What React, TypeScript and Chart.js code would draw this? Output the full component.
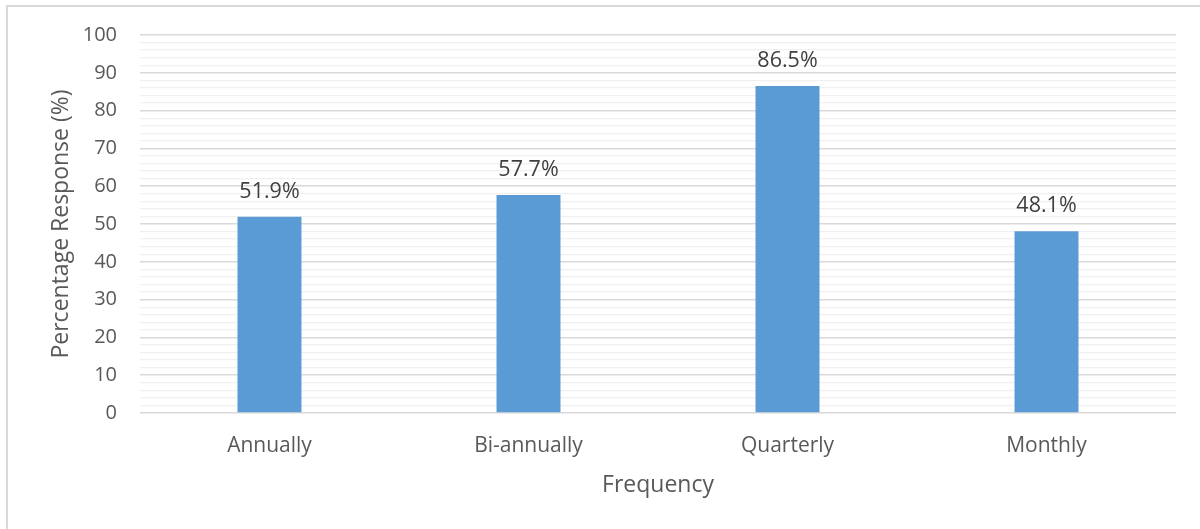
import React, { useEffect, useRef } from "react";
import { Chart, registerables } from "chart.js";

Chart.register(...registerables);

const categories = ["Annually", "Bi-annually", "Quarterly", "Monthly"];
const values = [51.9, 57.7, 86.5, 48.1];
const valueLabels = ["51.9%", "57.7%", "86.5%", "48.1%"];
const yTitle = "Percentage Response (%)";
const xTitle = "Frequency";

const FONT = "'Open Sans', 'Noto Sans', sans-serif";
const TEXT = "#595959";

export default function App() {
  const ref = useRef<HTMLCanvasElement | null>(null);
  useEffect(() => {
    document.body.style.margin = "0";
    const canvas = ref.current!;
    const deco = {
      id: "deco",
      beforeDraw(chart: any) {
        const c = chart.ctx;
        c.save();
        c.strokeStyle = "#d9d9d9";
        c.lineWidth = 2;
        c.beginPath();
        c.moveTo(7, 529);
        c.lineTo(7, 6);
        c.lineTo(1200, 6);
        c.stroke();
        c.restore();
      },
      afterDatasetsDraw(chart: any) {
        const c = chart.ctx;
        const meta = chart.getDatasetMeta(0);
        c.save();
        c.fillStyle = "#404040";
        c.font = `21.5px ${FONT}`;
        c.textAlign = "center";
        c.textBaseline = "middle";
        meta.data.forEach((bar: any, i: number) => {
          c.fillText(valueLabels[i], bar.x, bar.y - 25);
        });
        c.fillStyle = TEXT;
        c.font = `23px ${FONT}`;
        const area = chart.chartArea;
        c.fillText(xTitle, (area.left + area.right) / 2, 485);
        c.translate(61, (area.top + area.bottom) / 2);
        c.rotate(-Math.PI / 2);
        c.fillText(yTitle, 0, 0);
        c.restore();
      },
    };
    const chart = new Chart(canvas, {
      type: "bar",
      data: {
        labels: categories,
        datasets: [
          {
            data: values,
            backgroundColor: "#5b9bd5",
            borderWidth: 0,
            barPercentage: 0.247,
            categoryPercentage: 1,
          },
        ],
      },
      options: {
        animation: false,
        responsive: false,
        maintainAspectRatio: false,
        devicePixelRatio: 1,
        layout: { padding: { left: 0, top: 34, right: 24, bottom: 0 } },
        plugins: { legend: { display: false }, tooltip: { enabled: false } },
        scales: {
          x: {
            grid: { display: false },
            border: { display: false },
            ticks: {
              color: TEXT,
              font: { family: FONT, size: 21 },
              padding: 12,
              maxRotation: 0,
            },
            afterFit(scale: any) {
              scale.height = 529 - 413;
            },
          },
          y: {
            min: 0,
            max: 100,
            border: { display: false },
            grid: {
              drawTicks: false,
              color: (ctx: any) =>
                ctx.tick && ctx.tick.value % 10 === 0 ? "#d9d9d9" : "#f0f0f0",
              lineWidth: (ctx: any) =>
                ctx.tick && ctx.tick.value % 10 === 0 ? 1.6 : 1.3,
            },
            ticks: {
              stepSize: 2,
              autoSkip: false,
              maxTicksLimit: 200,
              padding: 23,
              color: TEXT,
              font: { family: FONT, size: 20 },
              callback: (v: any) => (Number(v) % 10 === 0 ? String(v) : ""),
            },
            afterFit(scale: any) {
              scale.width = 140;
            },
          },
        },
      },
      plugins: [deco],
    });
    return () => chart.destroy();
  }, []);
  return (
    <div style={{ position: "fixed", left: 0, top: 0, width: 1200, height: 529, background: "#fff" }}>
      <canvas ref={ref} width={1200} height={529} style={{ width: 1200, height: 529 }} />
    </div>
  );
}
